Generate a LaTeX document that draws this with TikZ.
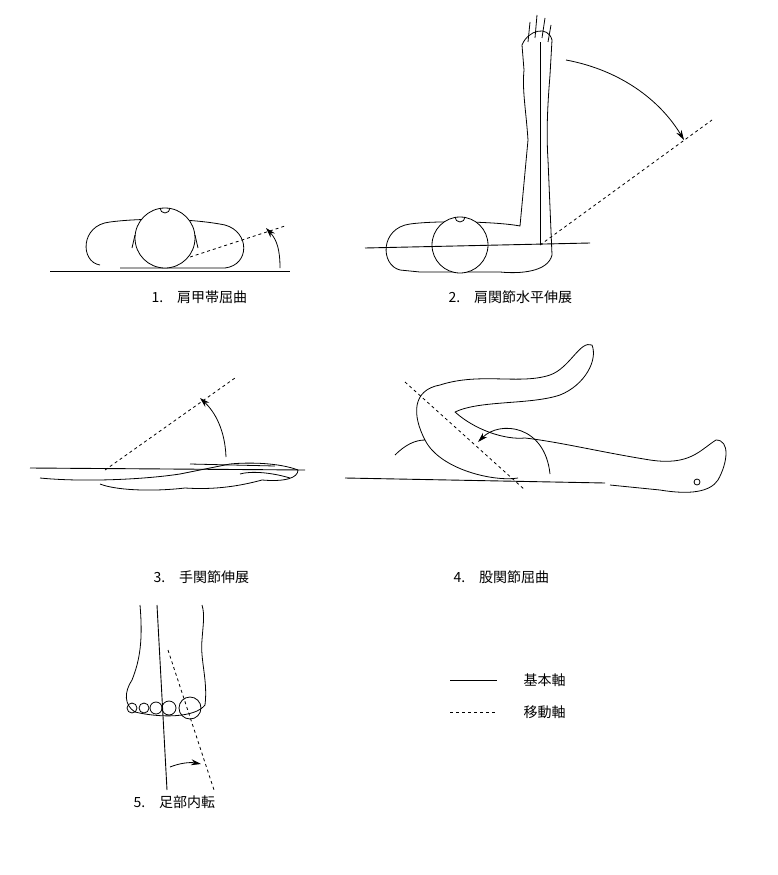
\documentclass[tikz,border=0pt]{standalone}
\usepackage{fontspec}
\newfontfamily\cjk{Noto Sans CJK JP}
\usetikzlibrary{arrows.meta}
\tikzset{
  base/.style={line width=0.9pt},
  moving/.style={line width=0.8pt, dashed},
  outline/.style={line width=0.8pt, line join=round},
  angle/.style={line width=0.8pt, -{Stealth[length=10pt,width=6pt]}},
  caption/.style={font=\cjk\fontsize{14}{16}\selectfont, anchor=west}
}
\begin{document}
\begin{tikzpicture}[x=1pt, y=-1pt]
\useasboundingbox (0,0) rectangle (778,875);

% 1. shoulder girdle
\draw[outline] (100,265) .. controls (80,262) and (80,225) .. (110,222) .. controls (140,218) and (190,218) .. (225,225) .. controls (250,232) and (250,265) .. (225,268) -- (120,268);
\draw[outline, fill=white] (165,238) circle (30);
\draw[outline] (135,235) -- (132,248) (195,235) -- (198,248);
\draw[outline] (160,208) arc (180:0:5);
\draw[base] (50,271) -- (290,271);
\draw[moving] (190,257) -- (285,226);
\draw[angle] (280,268) .. controls (280,250) and (277,240) .. (266,228);
\node[caption] (c1) at (148,297) {1.\quad 肩甲帯屈曲};

% 2. shoulder horizontal extension
\draw[outline] (400,270) .. controls (380,265) and (380,228) .. (410,224) .. controls (440,220) and (500,222) .. (520,226) -- (528,140) .. controls (526,110) and (522,90) .. (524,70) -- (522,45) .. controls (528,30) and (548,25) .. (552,40) -- (550,75) .. controls (548,100) and (546,130) .. (548,160) -- (552,255) .. controls (548,272) and (520,274) .. (500,272) -- (420,272) -- cycle;
\draw[outline] (528,42) -- (530,22) (535,38) -- (537,15) (542,38) -- (545,18) (548,42) -- (551,25);
\draw[outline, fill=white] (460,245) circle (28);
\draw[outline] (455,217) arc (180:0:5);
\draw[base] (365,248) -- (590,243);
\draw[base] (540,245) -- (540,42);
\draw[moving] (540,245) -- (712,120);
\draw[angle] (566,60) .. controls (620,70) and (660,100) .. (684,140);
\node[caption] (c2) at (445,297) {2.\quad 肩関節水平伸展};

% 3. wrist extension
\draw[outline] (40,478) .. controls (80,482) and (140,480) .. (180,474) -- (230,464) .. controls (250,462) and (280,463) .. (298,470) .. controls (298,478) and (285,482) .. (262,480) .. controls (240,486) and (215,490) .. (185,488) .. controls (150,492) and (115,490) .. (100,484);
\draw[outline] (190,464) -- (275,466) (240,474) .. controls (250,471) and (270,472) .. (290,478);
\draw[base] (30,468) -- (305,470);
\draw[moving] (105,470) -- (235,378);
\draw[angle] (226,457) .. controls (225,430) and (215,412) .. (200,398);
\node[caption] (c3) at (150,577) {3.\quad 手関節伸展};

% 4. hip flexion
\draw[outline] (395,455) .. controls (405,445) and (415,440) .. (425,440) .. controls (412,415) and (412,390) .. (440,385) .. controls (480,372) and (520,385) .. (550,375) .. controls (570,368) and (580,340) .. (592,345) .. controls (598,360) and (585,385) .. (560,395) .. controls (530,405) and (480,400) .. (455,412) .. controls (475,430) and (505,440) .. (525,438) .. controls (560,442) and (600,452) .. (650,460) .. controls (690,466) and (700,450) .. (716,440) .. controls (730,440) and (728,462) .. (718,480) .. controls (710,492) and (690,495) .. (660,490) -- (610,485);
\draw[outline] (425,440) .. controls (440,470) and (495,482) .. (518,478);
\draw[outline] (697,482) circle (3);
\draw[base] (345,478) -- (605,483);
\draw[moving] (405,382) -- (525,490);
\draw[angle] (550,474) .. controls (545,425) and (500,420) .. (478,442);
\node[caption] (c4) at (450,577) {4.\quad 股関節屈曲};

% 5. foot adduction
\draw[outline] (140,605) .. controls (143,640) and (140,660) .. (132,680) .. controls (124,692) and (124,705) .. (135,712) .. controls (160,718) and (195,718) .. (205,705) .. controls (208,680) and (200,660) .. (202,640) .. controls (203,625) and (205,615) .. (202,605);
\foreach \i/\r in {132/5,144/5,156/6,169/7,190/11} \draw[outline] (\i,708) circle (\r);
\draw[base] (157,605) -- (167,790);
\draw[moving] (168,650) -- (214,790);
\draw[angle] (170,767) .. controls (180,763) and (190,762) .. (201,764);
\node[caption] (c5) at (130,802) {5.\quad 足部内転};

% legend
\coordinate (l1a) at (450,680); \coordinate (l1b) at (497,680);
\coordinate (l2a) at (450,712); \coordinate (l2b) at (497,712);
\draw[base] (l1a) -- (l1b);
\draw[moving] (l2a) -- (l2b);
\node[caption] (k1) at (520,680) {基本軸};
\node[caption] (k2) at (520,712) {移動軸};
\end{tikzpicture}
\end{document}
